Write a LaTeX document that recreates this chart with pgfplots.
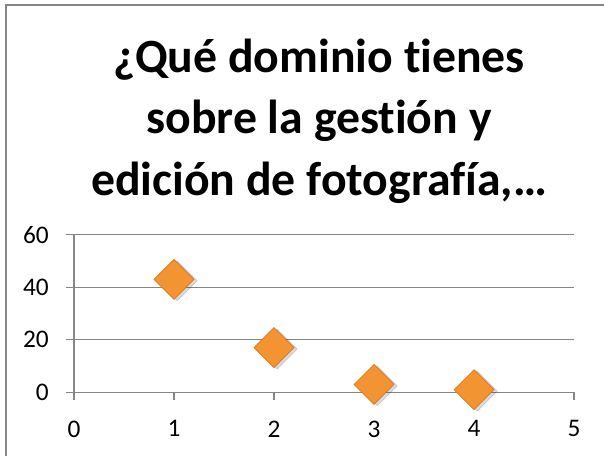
\documentclass[border=0pt]{standalone}
\usepackage{pgfplots}
\pgfplotsset{compat=1.18}
\usepackage{fontspec}
\setmainfont{Carlito}[RawFeature=-liga]
\definecolor{gridgray}{HTML}{868686}
\definecolor{mkfill}{HTML}{F39433}
\definecolor{mkdraw}{HTML}{D9761A}
\begin{document}
\begin{tikzpicture}
\useasboundingbox (0,0) rectangle (453pt,341.25pt);
\begin{scope}
\clip (0,0) rectangle (453pt,341.25pt);
\draw[gridgray, line width=1pt] (4.5pt,337.5pt) rectangle (470pt,-10pt);
\end{scope}
\node[anchor=base, font=\fontsize{35.8}{42}\selectfont\bfseries] at (239.25pt,287.25pt) {¿Qué dominio tienes};
\node[anchor=base, font=\fontsize{35.8}{42}\selectfont\bfseries] at (239.25pt,241.1pt) {sobre la gestión y};
\node[anchor=base, font=\fontsize{35.8}{42}\selectfont\bfseries] at (239.25pt,195pt) {edición de fotografía,…};
\begin{axis}[
  at={(55.5pt,47.0pt)}, anchor=south west,
  scale only axis, width=375pt, height=118.2pt,
  xmin=0, xmax=5, ymin=0, ymax=60,
  xtick={0,1,2,3,4,5}, ytick={0,20,40,60},
  axis x line*=bottom, axis y line*=left,
  axis line style={gridgray, line width=0.9pt, -},
  ymajorgrids, grid style={gridgray, line width=0.9pt},
  tick style={gridgray, line width=0.9pt},
  tick align=outside, major tick length=6pt,
  tick label style={font=\fontsize{19}{22}\selectfont, inner sep=0pt},
  /pgf/number format/assume math mode=true,
  yticklabel style={anchor=east, xshift=-12.75pt},
  xticklabel style={anchor=north, yshift=-15pt},
  clip=false,
]
\addplot[only marks, mark=square*, mark size=10.6pt,
  mark options={rotate=45, fill=black, draw=none, opacity=0.15, xshift=1pt, yshift=-2.5pt}]
  coordinates {(1,43) (2,17) (3,3) (4,1)};
\addplot[only marks, mark=square*, mark size=10.6pt,
  mark options={rotate=45, fill=mkfill, draw=mkdraw, line width=0.5pt}]
  coordinates {(1,43) (2,17) (3,3) (4,1)};
\end{axis}
\end{tikzpicture}
\end{document}
